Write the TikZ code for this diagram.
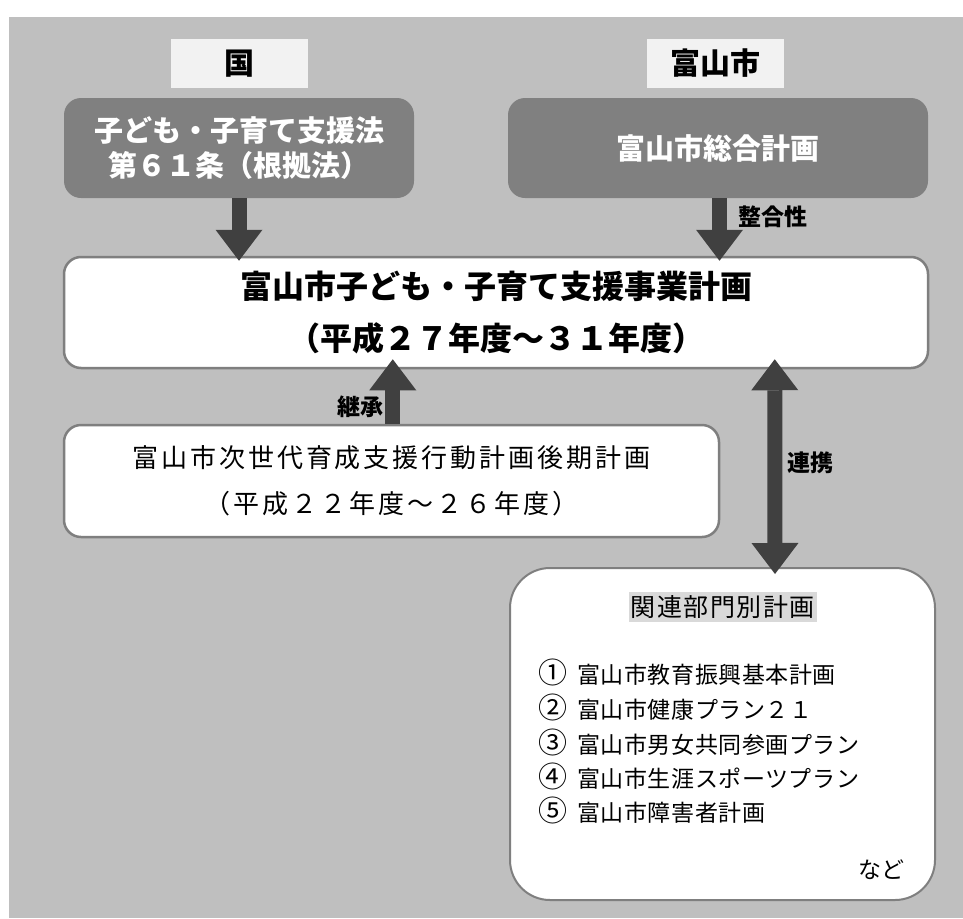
\documentclass[tikz,border=0pt]{standalone}
\usepackage{fontspec}
\setmainfont{Noto Sans CJK JP}
\usetikzlibrary{arrows.meta,calc}
\definecolor{cbg}{HTML}{BFBFBF}
\definecolor{cdark}{HTML}{808080}
\definecolor{carrow}{HTML}{404040}
\definecolor{clbl}{HTML}{F2F2F2}
\definecolor{chdr}{HTML}{D9D9D9}
\definecolor{cedge}{HTML}{7F7F7F}
\newcommand{\circnum}[1]{\makebox[39pt][l]{\smash{\fontsize{29}{27}\selectfont #1}}}
\begin{document}
\begin{tikzpicture}[x=1pt,y=-1pt,
  lblbox/.style={rectangle, fill=clbl, minimum width=137pt, minimum height=49pt, inner sep=0pt,
    font=\bfseries\fontsize{30}{36}\selectfont},
  darkbox/.style={rectangle, rounded corners=17pt, fill=cdark, text=white, align=center, inner sep=0pt,
    font=\bfseries\fontsize{29}{35}\selectfont},
  whitebox/.style={rectangle, rounded corners=17pt, fill=white, draw=cedge, line width=2.5pt, align=center, inner sep=0pt},
  itemtext/.style={inner sep=0pt, font=\fontsize{23}{27}\selectfont\addfontfeature{LetterSpace=2.5}},
  arrlbl/.style={inner sep=0pt, font=\bfseries\fontsize{23}{27}\selectfont},
  bigarrow/.style={draw=carrow, line width=15pt,
    -{Triangle[width=47pt, length=31pt, line width=0pt]}},
  dblarrow/.style={draw=carrow, line width=15pt,
    {Triangle[width=47pt, length=31pt, line width=0pt]}-{Triangle[width=47pt, length=31pt, line width=0pt]}}
]
\useasboundingbox (0,0) rectangle (963,918);
\fill[cbg] (9,17) rectangle (963,918);

% headings
\node[lblbox] (kuni) at (239.5,63.5) {国};
\node[lblbox] (city) at (715.5,63.5) {富山市};

% top boxes
\node[darkbox, minimum width=350pt, minimum height=100pt] (law) at (239,148)
  {子ども・子育て支援法\\第６１条（根拠法）};
\node[darkbox, minimum width=420pt, minimum height=100pt] (sogo) at (718,148) {富山市総合計画};

% main plan
\node[whitebox, minimum width=864pt, minimum height=111pt,
  font=\bfseries\fontsize{32}{52}\selectfont] (main) at (496,312.5)
  {富山市子ども・子育て支援事業計画\\（平成２７年度～３１年度）};

% previous plan
\node[whitebox, minimum width=655pt, minimum height=112pt,
  font=\fontsize{26}{46}\selectfont\addfontfeature{LetterSpace=11.5}] (jisedai) at (391.5,481)
  {富山市次世代育成支援行動計画後期計画\\（平成２２年度～２６年度）};

% related plans
\node[whitebox, rounded corners=40pt, line width=2pt, minimum width=425pt, minimum height=332pt] (kanren) at (722.5,734) {};
\node[fill=chdr, inner xsep=2pt, inner ysep=3pt,
  font=\fontsize{25}{30}\selectfont\addfontfeature{LetterSpace=6}] (hdr) at (722.5,607) {関連部門別計画};
\node[itemtext, anchor=west] (i1) at (538,675) {\circnum{①}富山市教育振興基本計画};
\node[itemtext, anchor=west] (i2) at (538,710) {\circnum{②}富山市健康プラン２１};
\node[itemtext, anchor=west] (i3) at (538,745) {\circnum{③}富山市男女共同参画プラン};
\node[itemtext, anchor=west] (i4) at (538,779) {\circnum{④}富山市生涯スポーツプラン};
\node[itemtext, anchor=west] (i5) at (538,813) {\circnum{⑤}富山市障害者計画};
\node[itemtext, anchor=east] (nado) at (905,870) {など};

% arrows
\draw[bigarrow, shorten >=-5pt] (law.south) -- (law.south |- main.north);
\draw[bigarrow, shorten >=-5pt] ($(sogo.south)+(1.5,0)$) -- ($(sogo.south |- main.north)+(1.5,0)$);
\draw[bigarrow, shorten >=-10pt] ($(jisedai.north west)+(330,0)$) -- ($(jisedai.north west |- main.south)+(330,0)$);
\draw[dblarrow, shorten <=-10pt, shorten >=-7pt] ($(main.south west)+(712,0)$) -- ($(kanren.north west)+(266,0)$);

% arrow labels
\node[arrlbl, anchor=west] (lseigo) at (738,217) {整合性};
\node[arrlbl, anchor=east] (lkeisho) at (384,407) {継承};
\node[arrlbl, anchor=west] (lrenkei) at (787,463) {連携};
\end{tikzpicture}
\end{document}
